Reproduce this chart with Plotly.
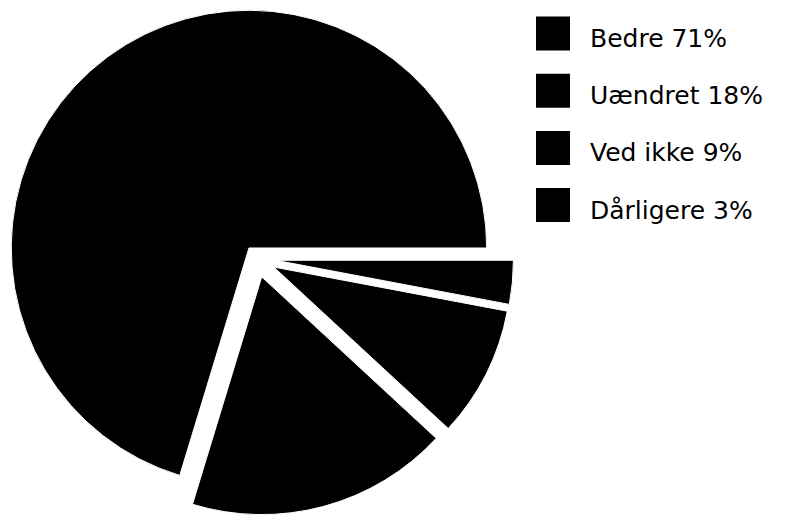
import plotly.graph_objects as go

labels = ["Bedre", "Uændret", "Ved ikke", "Dårligere"]
values = [71, 18, 9, 3]
pulls = [0.055, 0.08, 0.08, 0.08]
colors = ["#000000", "#000000", "#000000", "#000000"]

W, H = 796, 517

# first slice starts at 3 o'clock and runs counterclockwise
start_rotation = 90 - 360 * values[0] / sum(values)

fig = go.Figure()
fig.add_trace(go.Pie(
    labels=labels,
    values=values,
    pull=pulls,
    sort=False,
    direction="counterclockwise",
    rotation=start_rotation,
    textinfo="none",
    marker=dict(colors=colors, line=dict(color="#ffffff", width=1)),
    domain=dict(x=[0, 513.5 / W], y=[0, 1]),
    showlegend=False,
))

# legend built from the data lists
font = dict(family="DejaVu Sans, Liberation Sans, Arial", size=25, color="#000000")
row0, step, sq = 33.5, 57.2, 34
sq_x0, text_x = 536, 588
shapes, annotations = [], []
for i, (lab, val) in enumerate(zip(labels, values)):
    cy = row0 + i * step
    shapes.append(dict(
        type="rect", xref="paper", yref="paper",
        x0=sq_x0 / W, x1=(sq_x0 + sq) / W,
        y0=1 - (cy + sq / 2) / H, y1=1 - (cy - sq / 2) / H,
        fillcolor=colors[i], line=dict(width=0),
    ))
    annotations.append(dict(
        text=f"{lab} {val}%", xref="paper", yref="paper",
        x=text_x / W, y=1 - (cy + 5) / H, xanchor="left", yanchor="middle",
        showarrow=False, font=font,
    ))

fig.update_layout(
    width=W, height=H,
    margin=dict(l=0, r=0, t=0, b=0),
    paper_bgcolor="#ffffff", plot_bgcolor="#ffffff",
    shapes=shapes, annotations=annotations,
)

fig.write_html(
    "out.html",
    config={"displayModeBar": False},
    post_script="document.body.style.margin='0';",
)
